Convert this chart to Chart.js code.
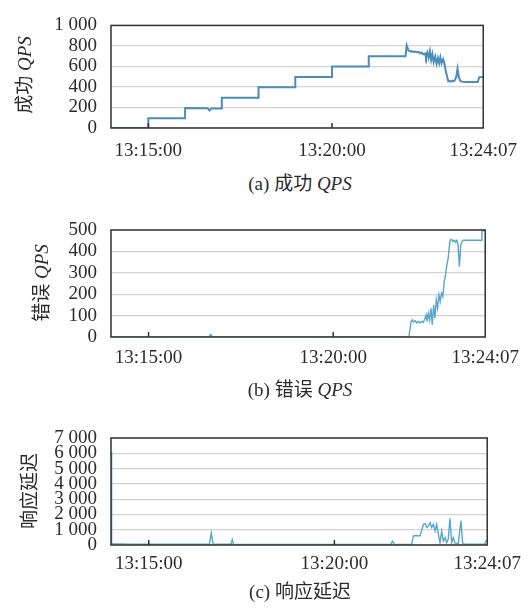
<!DOCTYPE html>
<html lang="zh">
<head>
<meta charset="utf-8">
<script src="https://cdn.jsdelivr.net/npm/chart.js@4.4.1/dist/chart.umd.min.js"></script>
<style>
  html, body { margin: 0; padding: 0; background: #fff; }
  body {
    width: 529px; height: 608px; position: relative; overflow: hidden;
    font-family: "Liberation Serif", "Noto Sans CJK SC", serif; color: #2b2b2b;
  }
  canvas { position: absolute; left: 0; }
  .ytitulo {
    position: absolute; white-space: nowrap; font-size: 19px; line-height: 1;
    transform: translate(-50%, -50%) rotate(-90deg);
  }
  .legenda {
    position: absolute; white-space: nowrap; font-size: 19px; line-height: 1;
    transform: translate(-50%, -50%);
  }
</style>
</head>
<body>

<canvas id="grafOk" width="529" height="170" style="top:0px"></canvas>
<canvas id="grafErro" width="529" height="180" style="top:200px"></canvas>
<canvas id="grafLat" width="529" height="180" style="top:410px"></canvas>

<div class="ytitulo" style="left:24px; top:75px">成功 <i>QPS</i></div>
<div class="ytitulo" style="left:41px; top:283px">错误 <i>QPS</i></div>
<div class="ytitulo" style="left:29px; top:491px">响应延迟</div>

<div class="legenda" style="left:300px; top:183px">(a) 成功 <i>QPS</i></div>
<div class="legenda" style="left:300px; top:389px">(b) 错误 <i>QPS</i></div>
<div class="legenda" style="left:300px; top:591px">(c) 响应延迟</div>

<script>
// ============================================================
//  DADOS (tempo em segundos a partir de 13:15:00)
// ============================================================

const xMin = -61;
const xMax = 547;
const xTickSecs = [0, 300, 547];
const xTickLabels = ['13:15:00', '13:20:00', '13:24:07'];

const yTicksOk = [0, 200, 400, 600, 800, 1000];
const yTicksErro = [0, 100, 200, 300, 400, 500];
const yTicksLat = [0, 1000, 2000, 3000, 4000, 5000, 6000, 7000];

// (a) sucesso QPS
const okSecs = [-61, 0, 0, 60, 60, 97, 100, 103, 120, 120, 180, 180, 240, 240, 300, 300,
  360, 360, 420, 422, 425, 428, 430, 433, 436, 438, 441, 444, 446, 449, 452, 453.5,
  455.7, 457.8, 460, 462, 464, 466, 468.6, 470.7, 473, 475, 477, 479, 481.5, 483.6,
  485.7, 488, 490, 492, 494, 496.5, 499, 501, 503, 505, 507, 509.4, 511.5, 519, 530,
  538, 540.5, 547];
const okQps = [0, 0, 96, 96, 194, 192, 170, 190, 190, 294, 294, 397, 397, 498, 498, 600,
  600, 700, 700, 805, 755, 745, 750, 742, 745, 739, 742, 729, 736, 718, 726, 689,
  736, 682, 750, 663, 720, 642, 695, 626, 682, 632, 690, 632, 670, 626,
  560, 500, 455, 460, 452, 462, 455, 470, 500, 579, 500, 462, 452, 448, 448,
  448, 495, 498];

// (b) erro QPS
const erroSecs = [-61, 98, 101, 104, 423, 426.6, 428.7, 430.4, 433.1, 435.8, 438.5, 441.2,
  443.9, 446.5, 449.2, 450.8, 452.4, 454.6, 456.7, 458.9, 461, 463.2, 465.3, 467.5,
  469.6, 471.8, 473.9, 476, 478.2, 480.3, 482.5, 484.6, 486.8, 488.9, 490, 492.2,
  494.3, 496.5, 498.6, 500.8, 502.9, 505.1, 507.2, 509.4, 511.5, 540.5, 541.6, 547];
const erroQps = [0, 0, 12, 0, 0, 73, 80, 70, 76, 66, 73, 65,
  73, 68, 88, 103, 73, 111, 80, 134, 57, 150, 88, 173,
  134, 197, 165, 204, 189, 258, 290, 336, 367, 429, 452, 457,
  447, 452, 444, 452, 429, 328, 429, 447, 452, 452, 494, 500];

// (c) latência
const latSecs = [-61, -60, -30, 0, 30, 60, 98, 101, 104, 133, 135, 137, 391, 394, 397,
  425, 427.7, 433, 438.5, 443.9, 446.6, 449.2, 451.9, 454.6, 457.3, 460, 462.7, 465.3,
  468, 470.7, 473.4, 476.1, 478.8, 481.5, 484.1, 486.8, 489.5, 492.2, 494.9, 500.2,
  504.6, 507.2, 510, 543, 545.8, 547];
const latMs = [6100, 80, 60, 50, 60, 50, 50, 800, 50, 50, 350, 50, 40, 250, 40,
  60, 590, 620, 600, 1350, 1400, 1150, 1245, 1460, 1150, 1355, 917, 1355,
  700, 153, 917, 262, 480, 153, 400, 1750, 153, 480, 120, 100,
  1600, 150, 60, 60, 300, 300];

// ============================================================
//  UTILITÁRIOS
// ============================================================

const fonte = { family: '"Liberation Serif", serif', size: 19 };
const corTexto = '#2b2b2b';

function formatarMilhar(v) {
  return String(v).replace(/\B(?=(\d{3})+$)/g, ' ');
}

function pontos(secs, vals) {
  return secs.map((s, i) => ({ x: s, y: vals[i] }));
}

// moldura do gráfico + pequenos ticks para dentro
const moldura = {
  id: 'moldura',
  afterDraw(chart) {
    const { ctx, chartArea: a, scales: { x } } = chart;
    ctx.save();
    ctx.strokeStyle = '#333';
    ctx.lineWidth = 1.5;
    ctx.strokeRect(a.left, a.top, a.right - a.left, a.bottom - a.top);
    x.ticks.forEach(t => {
      const px = x.getPixelForValue(t.value);
      if (px > a.right - 3) return;
      ctx.beginPath();
      ctx.moveTo(px, a.bottom);
      ctx.lineTo(px, a.bottom - 5);
      ctx.stroke();
    });
    ctx.restore();
  }
};

// ============================================================
//  CRIAR GRÁFICOS
// ============================================================

function criarGrafico(id, dados, yTicks, cor, largura, padTop, alturaX, padX) {
  return new Chart(document.getElementById(id), {
    type: 'line',
    data: {
      datasets: [{
        data: dados,
        borderColor: cor,
        borderWidth: largura,
        pointRadius: 0,
        tension: 0,
        fill: false
      }]
    },
    options: {
      responsive: false,
      animation: false,
      layout: { padding: { top: padTop, right: 40, left: 0, bottom: 0 } },
      plugins: { legend: { display: false }, tooltip: { enabled: false } },
      scales: {
        x: {
          type: 'linear',
          min: xMin,
          max: xMax,
          afterBuildTicks: s => { s.ticks = xTickSecs.map(v => ({ value: v })); },
          afterFit: s => { s.height = alturaX; },
          ticks: {
            autoSkip: false,
            maxRotation: 0,
            padding: padX,
            color: corTexto,
            font: fonte,
            callback: (v, i) => xTickLabels[i]
          },
          grid: { display: false, drawTicks: false },
          border: { display: false }
        },
        y: {
          min: yTicks[0],
          max: yTicks[yTicks.length - 1],
          afterBuildTicks: s => { s.ticks = yTicks.map(v => ({ value: v })); },
          afterFit: s => { s.width = 111; },
          ticks: {
            autoSkip: false,
            padding: 14,
            color: corTexto,
            font: fonte,
            callback: v => formatarMilhar(v)
          },
          grid: { color: '#d4d4d4', lineWidth: 1.2, drawTicks: false },
          border: { display: false }
        }
      }
    },
    plugins: [moldura]
  });
}

criarGrafico('grafOk', pontos(okSecs, okQps), yTicksOk, '#4a8db8', 2, 22, 42, 12);
criarGrafico('grafErro', pontos(erroSecs, erroQps), yTicksErro, '#58a6cb', 1.4, 30, 43, 10);
criarGrafico('grafLat', pontos(latSecs, latMs), yTicksLat, '#58a6cb', 1.4, 28, 45, 8);
</script>
</body>
</html>
